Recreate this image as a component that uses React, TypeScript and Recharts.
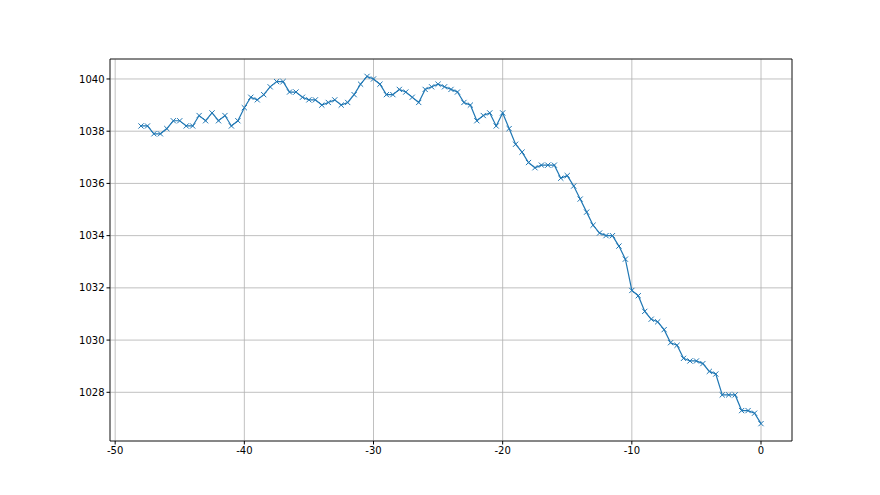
import React from 'react';
import { LineChart, Line, XAxis, YAxis, CartesianGrid, ReferenceLine } from 'recharts';

const xValues: number[] = [
  -48, -47.5, -47, -46.5, -46, -45.5, -45, -44.5, -44, -43.5, -43, -42.5, -42, -41.5, -41, -40.5,
  -40, -39.5, -39, -38.5, -38, -37.5, -37, -36.5, -36, -35.5, -35, -34.5, -34, -33.5, -33, -32.5,
  -32, -31.5, -31, -30.5, -30, -29.5, -29, -28.5, -28, -27.5, -27, -26.5, -26, -25.5, -25, -24.5,
  -24, -23.5, -23, -22.5, -22, -21.5, -21, -20.5, -20, -19.5, -19, -18.5, -18, -17.5, -17, -16.5,
  -16, -15.5, -15, -14.5, -14, -13.5, -13, -12.5, -12, -11.5, -11, -10.5, -10, -9.5, -9, -8.5,
  -8, -7.5, -7, -6.5, -6, -5.5, -5, -4.5, -4, -3.5, -3, -2.5, -2, -1.5, -1, -0.5, 0,
];

const pressure: number[] = [
  1038.2, 1038.2, 1037.9, 1037.9, 1038.1, 1038.4, 1038.4, 1038.2, 1038.2, 1038.6, 1038.4, 1038.7, 1038.4, 1038.6, 1038.2, 1038.4,
  1038.9, 1039.3, 1039.2, 1039.4, 1039.7, 1039.9, 1039.9, 1039.5, 1039.5, 1039.3, 1039.2, 1039.2, 1039.0, 1039.1, 1039.2, 1039.0,
  1039.1, 1039.4, 1039.8, 1040.1, 1040.0, 1039.8, 1039.4, 1039.4, 1039.6, 1039.5, 1039.3, 1039.1, 1039.6, 1039.7, 1039.8, 1039.7,
  1039.6, 1039.5, 1039.1, 1039.0, 1038.4, 1038.6, 1038.7, 1038.2, 1038.7, 1038.1, 1037.5, 1037.2, 1036.8, 1036.6, 1036.7, 1036.7,
  1036.7, 1036.2, 1036.3, 1035.9, 1035.4, 1034.9, 1034.4, 1034.1, 1034.0, 1034.0, 1033.6, 1033.1, 1031.9, 1031.7, 1031.1, 1030.8,
  1030.7, 1030.4, 1029.9, 1029.8, 1029.3, 1029.2, 1029.2, 1029.1, 1028.8, 1028.7, 1027.9, 1027.9, 1027.9, 1027.3, 1027.3, 1027.2, 1026.8,
];

const xTicks: number[] = [-50, -40, -30, -20, -10, 0];
const yTicks: number[] = [1028, 1030, 1032, 1034, 1036, 1038, 1040];

const data = xValues.map((x, i) => ({ x, p: pressure[i] }));

const xMin = Math.min(...xValues);
const xMax = Math.max(...xValues);
const yMin = Math.min(...pressure);
const yMax = Math.max(...pressure);
const xPad = (xMax - xMin) * 0.05;
const yPad = (yMax - yMin) * 0.05;
const xDomain: [number, number] = [xMin - xPad, xMax + xPad];
const yDomain: [number, number] = [yMin - yPad, yMax + yPad];

const LINE = '#1f77b4';

const XMarker = (props: any) => {
  const { cx, cy, index } = props;
  if (cx == null || cy == null) return <g key={index} />;
  const s = 2.6;
  return (
    <g key={index}>
      <line x1={cx - s} y1={cy - s} x2={cx + s} y2={cy + s} stroke={LINE} strokeWidth={1} />
      <line x1={cx - s} y1={cy + s} x2={cx + s} y2={cy - s} stroke={LINE} strokeWidth={1} />
    </g>
  );
};

const tickStyle = { fontSize: 10, fill: '#000', fontFamily: 'DejaVu Sans' };

export default function App() {
  return (
    <div style={{ position: 'absolute', left: 0, top: 0, width: 880, height: 495, background: '#fff' }}>
      <LineChart
        width={880}
        height={495}
        data={data}
        margin={{ top: 59, right: 88, bottom: 24, left: 50 }}
      >
        <CartesianGrid stroke="#b0b0b0" strokeWidth={0.8} />
        <XAxis
          dataKey="x"
          type="number"
          domain={xDomain}
          ticks={xTicks}
          allowDataOverflow
          height={30}
          tick={tickStyle}
          tickLine={{ stroke: '#000' }}
          tickSize={3.5}
          tickMargin={2}
          axisLine={{ stroke: '#000', strokeWidth: 0.8 }}
        />
        <YAxis
          dataKey="p"
          type="number"
          domain={yDomain}
          ticks={yTicks}
          allowDataOverflow
          width={60}
          tick={tickStyle}
          tickLine={{ stroke: '#000' }}
          tickSize={3.5}
          tickMargin={2}
          axisLine={{ stroke: '#000', strokeWidth: 0.8 }}
        />
        <ReferenceLine x={xDomain[1]} stroke="#000" strokeWidth={0.8} />
        <ReferenceLine y={yDomain[1]} stroke="#000" strokeWidth={0.8} />
        <Line
          dataKey="p"
          stroke={LINE}
          strokeWidth={1.2}
          dot={<XMarker />}
          activeDot={false}
          isAnimationActive={false}
        />
      </LineChart>
    </div>
  );
}
